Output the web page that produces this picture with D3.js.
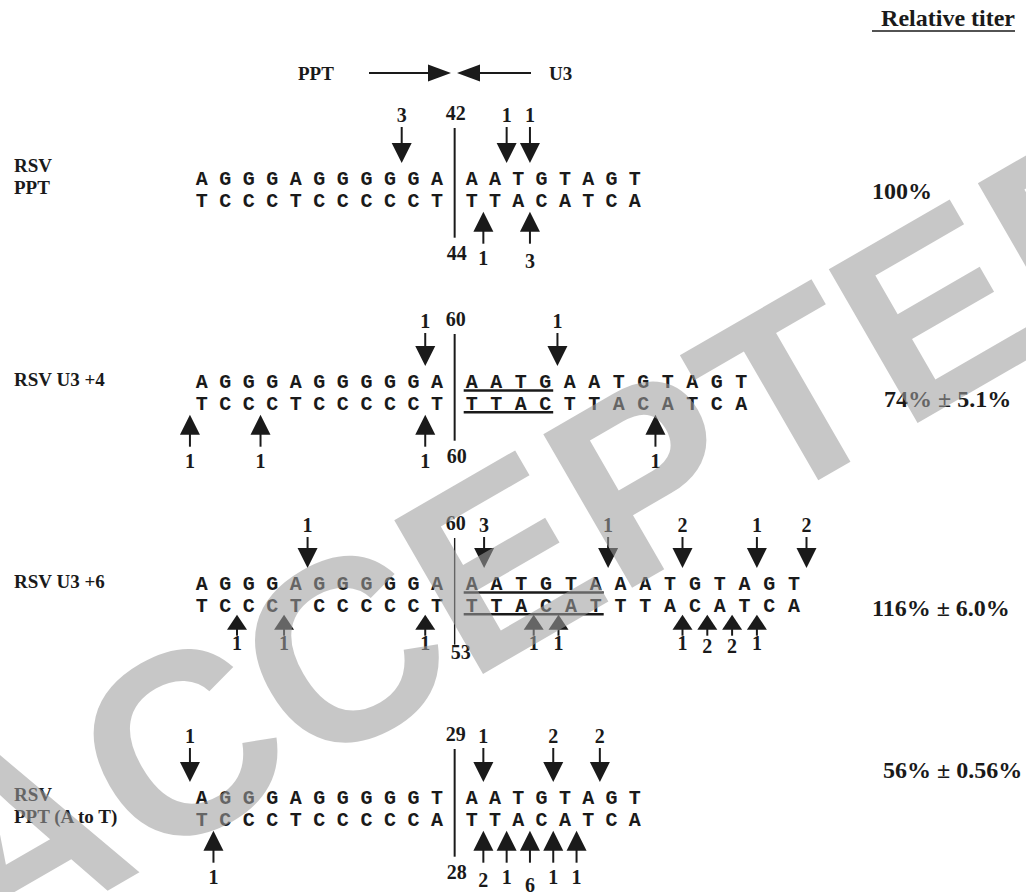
<!DOCTYPE html>
<html><head><meta charset="utf-8">
<script src="https://cdn.jsdelivr.net/npm/d3@7"></script>
<style>body{margin:0;background:#fff}</style>
</head><body>
<svg id="fig" width="1026" height="892"></svg>
<script>
// Constructs and their plus/minus strand sequences around the PPT/U3 junction
const labelLines = [["RSV","PPT"],["RSV U3 +4"],["RSV  U3 +6"],["RSV","PPT (A to T)"]];
const plusLeft   = ["AGGGAGGGGGA","AGGGAGGGGGA","AGGGAGGGGGA","AGGGAGGGGGT"];
const minusLeft  = ["TCCCTCCCCCT","TCCCTCCCCCT","TCCCTCCCCCT","TCCCTCCCCCA"];
const plusRight  = ["AATGTAGT","AATGAATGTAGT","AATGTAAATGTAGT","AATGTAGT"];
const minusRight = ["TTACATCA","TTACTTACATCA","TTACATTTACATCA","TTACATCA"];
const junctionPlus  = ["42","60","60","29"];
const junctionMinus = ["44","60","53","28"];
const duplicated = [0,4,6,0];
const titer = ["100%","74% \u00B1 5.1%","116% \u00B1 6.0%","56% \u00B1 0.56%"];

// Cleavage sites: [construct, side, site between bases, count]
const plusSites = [
  [0,"L",8.5,3],[0,"R",1.5,1],[0,"R",2.5,1],
  [1,"L",9.5,1],[1,"R",3.5,1],
  [2,"L",4.5,1],[2,"R",0.5,3],[2,"R",5.5,1],[2,"R",8.5,2],[2,"R",11.5,1],[2,"R",13.5,2],
  [3,"L",-0.5,1],[3,"R",0.5,1],[3,"R",3.5,2],[3,"R",5.5,2]
];
const minusSites = [
  [0,"R",0.5,1],[0,"R",2.5,3],
  [1,"L",-0.5,1],[1,"L",2.5,1],[1,"L",9.5,1],[1,"R",7.5,1],
  [2,"L",1.5,1],[2,"L",3.5,1],[2,"L",9.5,1],[2,"R",2.5,1],[2,"R",3.5,1],[2,"R",8.5,1],[2,"R",9.5,2],[2,"R",10.5,2],[2,"R",11.5,1],
  [3,"L",0.5,1],[3,"R",0.5,2],[3,"R",1.5,1],[3,"R",2.5,6],[3,"R",3.5,1],[3,"R",4.5,1]
];

const svg = d3.select("#fig");
const INK = "#1a1a1a";
const serif = "'Liberation Serif','Times New Roman',serif";
const mono = "'Liberation Mono','Courier New',monospace";

// layout of each construct block
const plusY      = [178, 381, 583, 797];   // plus-strand row centre
const GAP        = 21.7;                   // plus → minus strand
const downLabel  = [-63, -60, -58, -61];   // count label above plus strand
const upTip      = [12, 12, 10, 12];
const upBase     = [32, 32, 25, 32];
const upEnd      = [44, 44, 31, 44];
const upLabel    = [58, 58, 38, 58];
const rightPitch = [23.3, 24.5, 24.8, 23.3];

// column scales: left bases 0..10; right bases start past the junction
const colX = d3.scaleLinear().domain([0, 10]).range([201.7, 437]);
const rightX = rightPitch.map(p => d3.scaleLinear().domain([0, 1]).range([471.7, 471.7 + p]));
const siteX = (i, side, p) => side === "L" ? colX(p) : rightX[i](p);

function label(g, x, y, t, size, anchor) {
  return g.append("text").attr("x", x).attr("y", y).attr("dy", "0.35em")
    .attr("text-anchor", anchor || "middle").attr("font-family", serif)
    .attr("font-weight", "bold").attr("font-size", size).attr("fill", INK).text(t);
}

// header
svg.append("text").attr("x", 1015).attr("y", 26).attr("text-anchor", "end")
  .attr("font-family", serif).attr("font-weight", "bold").attr("font-size", 24)
  .attr("fill", INK).text("Relative titer");
svg.append("line").attr("x1", 872).attr("x2", 1015).attr("y1", 31).attr("y2", 31)
  .attr("stroke", INK).attr("stroke-width", 1.6);

label(svg, 298, 73, "PPT", 19, "start");
label(svg, 549, 73, "U3", 19, "start");
const hdr = svg.append("g").attr("fill", INK);
hdr.append("line").attr("x1", 369).attr("x2", 430).attr("y1", 73).attr("y2", 73).attr("stroke", INK).attr("stroke-width", 2);
hdr.append("path").attr("d", "M428,64.5 L451,73 L428,81.5 Z");
hdr.append("line").attr("x1", 479).attr("x2", 531).attr("y1", 73).attr("y2", 73).attr("stroke", INK).attr("stroke-width", 2);
hdr.append("path").attr("d", "M480,64.5 L457,73 L480,81.5 Z");

function strand(g, i, seq, side, y) {
  g.selectAll(null).data(seq.split("")).join("text")
    .attr("x", (d, k) => siteX(i, side, k)).attr("y", y).attr("dy", "0.36em")
    .attr("text-anchor", "middle").attr("font-family", mono).attr("font-weight", "bold")
    .attr("font-size", 20).attr("fill", INK).text(d => d);
}

const panel = svg.selectAll("g.panel").data(d3.range(4)).join("g").attr("class", "panel");

panel.each(function(i) {
  const g = d3.select(this);
  const ty = plusY[i], by = ty + GAP;

  // construct name
  const lines = labelLines[i];
  const y0 = lines.length === 2 ? (i === 0 ? ty - 13 : ty - 3) : ty - 2;
  lines.forEach((t, k) => label(g, 14, y0 + k * 22, t, 19, "start"));

  strand(g, i, plusLeft[i], "L", ty);
  strand(g, i, minusLeft[i], "L", by);
  strand(g, i, plusRight[i], "R", ty);
  strand(g, i, minusRight[i], "R", by);

  // junction line and nucleotide numbers
  const jx = colX(10.75);
  g.append("line").attr("x1", jx).attr("x2", jx)
    .attr("y1", ty + downLabel[i] + 13).attr("y2", by + (i === 2 ? 40 : 38))
    .attr("stroke", INK).attr("stroke-width", i === 2 ? 1.4 : 2);
  label(g, jx + 1, ty + downLabel[i] - 2, junctionPlus[i], 20);
  label(g, jx + (i === 2 ? 6 : 2), by + (i === 2 ? 47 : 53), junctionMinus[i], 20);

  // duplicated U3 segment underlines
  if (duplicated[i] > 0) {
    const x1 = siteX(i, "R", 0) - 8, x2 = siteX(i, "R", duplicated[i] - 1) + 8;
    [ty + 9.5, by + 9.5].forEach(y => g.append("line").attr("x1", x1).attr("x2", x2)
      .attr("y1", y).attr("y2", y).attr("stroke", INK).attr("stroke-width", 2.5));
  }

  // relative titer
  label(g, [872, 884, 872, 883][i], [191, 399, 608, 770][i], titer[i], 24, "start");
});

// cleavage arrows on the plus strand (pointing down)
const down = svg.append("g");
plusSites.forEach(([i, side, p, n]) => {
  const x = siteX(i, side, p), ty = plusY[i];
  down.append("line").attr("x1", x).attr("x2", x).attr("y1", ty + downLabel[i] + 12).attr("y2", ty - 34)
    .attr("stroke", INK).attr("stroke-width", 2);
  down.append("path").attr("d", `M${x - 10},${ty - 35} L${x + 10},${ty - 35} L${x},${ty - 15} Z`).attr("fill", INK);
  label(down, x, ty + downLabel[i], n, 20);
});
// cleavage arrows on the minus strand (pointing up)
const up = svg.append("g");
minusSites.forEach(([i, side, p, n]) => {
  const x = siteX(i, side, p), by = plusY[i] + GAP;
  up.append("line").attr("x1", x).attr("x2", x).attr("y1", by + upBase[i] - 2).attr("y2", by + upEnd[i])
    .attr("stroke", INK).attr("stroke-width", 2);
  up.append("path").attr("d", `M${x - 10},${by + upBase[i]} L${x + 10},${by + upBase[i]} L${x},${by + upTip[i]} Z`).attr("fill", INK);
  const extra = n === 6 ? 8 : (n >= 2 ? 3 : 0);
  label(up, x, by + upLabel[i] + extra, n, 20);
});

// translucent stamp across the figure
svg.append("text").attr("transform", "translate(-16,962) rotate(-30)")
  .attr("font-family", "'Liberation Sans',Arial,sans-serif").attr("font-weight", "bold")
  .attr("font-size", 258).attr("fill", "#9e9e9e").attr("opacity", 0.57)
  .text("ACCEPTED");
</script>
</body></html>
